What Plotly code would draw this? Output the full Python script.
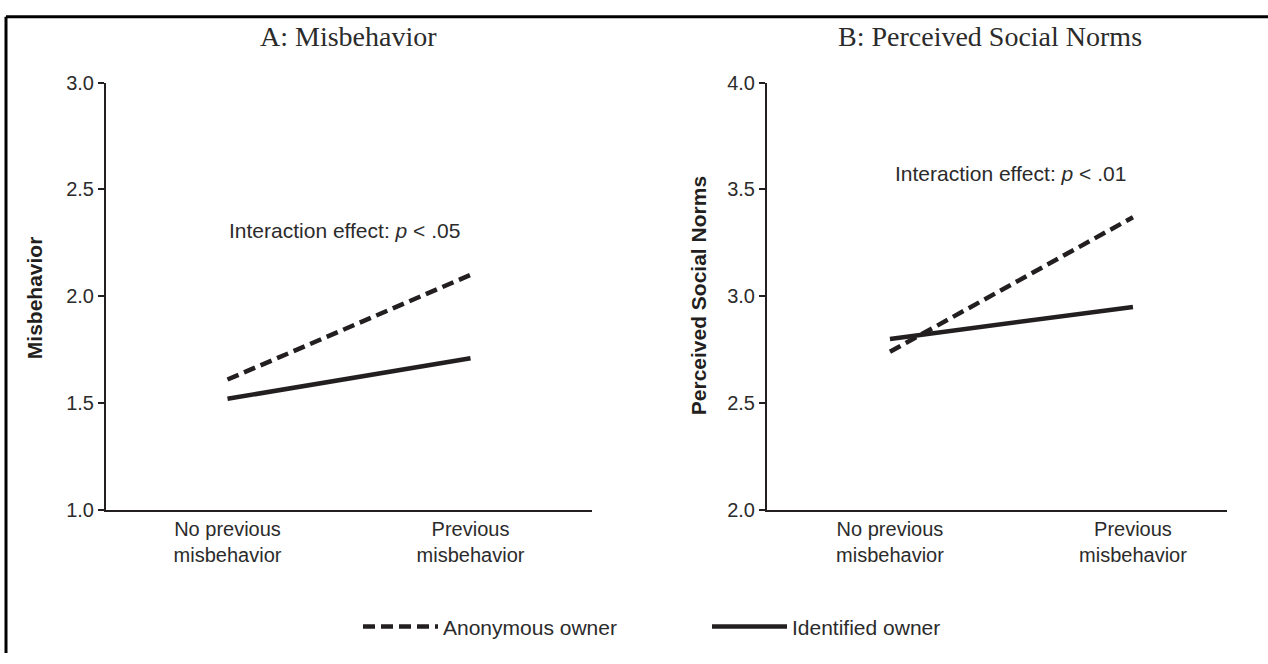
import plotly.graph_objects as go

# --- data -----------------------------------------------------------------
CATEGORIES = ["No previous<br>misbehavior", "Previous<br>misbehavior"]
CAT_POS = [0, 1]

misbehavior_anonymous = [1.61, 2.10]
misbehavior_identified = [1.52, 1.71]

norms_anonymous = [2.74, 3.37]
norms_identified = [2.80, 2.95]

INK = "#231f20"
TEXT = "#2b2b2b"
SANS = "Liberation Sans, Arial, sans-serif"
SERIF = "Liberation Serif, Times New Roman, serif"

W, H = 1268, 664


def px_x(v):
    return v / W


def px_y(v):
    return 1 - v / H


fig = go.Figure()

panels = [
    ("x", "y", misbehavior_anonymous, misbehavior_identified, True),
    ("x2", "y2", norms_anonymous, norms_identified, False),
]
for xa, ya, anon, ident, show in panels:
    fig.add_trace(go.Scatter(
        x=CAT_POS, y=anon, xaxis=xa, yaxis=ya, mode="lines",
        name="Anonymous owner", legendgroup="anon", showlegend=show,
        line=dict(color=INK, width=4.5, dash="12px,6px"),
    ))
    fig.add_trace(go.Scatter(
        x=CAT_POS, y=ident, xaxis=xa, yaxis=ya, mode="lines",
        name="Identified owner", legendgroup="ident", showlegend=show,
        line=dict(color=INK, width=4.5),
    ))

xaxis_common = dict(
    tickvals=CAT_POS, ticktext=CATEGORIES,
    showline=True, linecolor=INK, linewidth=2, ticks="",
    showgrid=False, zeroline=False, fixedrange=True,
    tickfont=dict(family=SANS, size=20, color=TEXT),
)
yaxis_common = dict(
    showline=True, linecolor=INK, linewidth=2, ticks="outside",
    ticklen=6, tickwidth=2, tickcolor=INK, dtick=0.5, tickformat=".1f",
    showgrid=False, zeroline=False,
    tickfont=dict(family=SANS, size=20, color=TEXT),
)

fig.update_layout(
    width=W, height=H,
    paper_bgcolor="white", plot_bgcolor="white",
    margin=dict(l=0, r=0, t=0, b=0),
    font=dict(family=SANS, color=TEXT),
    xaxis=dict(xaxis_common, domain=[px_x(106), px_x(592)], range=[-0.5, 1.5], anchor="y"),
    yaxis=dict(yaxis_common, domain=[px_y(516), px_y(74)], range=[1.0, 3.0], anchor="x"),
    xaxis2=dict(xaxis_common, domain=[px_x(767), px_x(1227)], range=[-0.506, 1.387], anchor="y2"),
    yaxis2=dict(yaxis_common, domain=[px_y(516), px_y(74)], range=[2.0, 4.0], anchor="x2"),
    showlegend=True,
    legend=dict(
        orientation="h", x=px_x(358), xanchor="left", y=px_y(637), yanchor="middle",
        itemwidth=75, entrywidth=259, font=dict(family=SANS, size=21, color=TEXT),
        bgcolor="rgba(0,0,0,0)",
    ),
)

annotations = [
    dict(text="A: Misbehavior", x=px_x(348), y=px_y(26), font=dict(family=SERIF, size=28, color=TEXT)),
    dict(text="B: Perceived Social Norms", x=px_x(990), y=px_y(26), font=dict(family=SERIF, size=28, color=TEXT)),
    dict(text="Interaction effect: <i>p</i> &lt; .05", x=px_x(345), y=px_y(227), font=dict(family=SANS, size=21, color=TEXT)),
    dict(text="Interaction effect: <i>p</i> &lt; .01", x=px_x(1010), y=px_y(168), font=dict(family=SANS, size=21, color=TEXT)),
    dict(text="<b>Misbehavior</b>", x=px_x(34), y=px_y(297), textangle=-90, font=dict(family=SANS, size=21, color=INK)),
    dict(text="<b>Perceived Social Norms</b>", x=px_x(698), y=px_y(295), textangle=-90, font=dict(family=SANS, size=21, color=INK)),
]
for a in annotations:
    fig.add_annotation(xref="paper", yref="paper", showarrow=False, xanchor="center", yanchor="middle", **a)

# frame (left and top edges of the bordered figure)
fig.add_shape(type="line", xref="paper", yref="paper", x0=px_x(6), x1=px_x(6), y0=0, y1=px_y(6),
              line=dict(color="black", width=3))
fig.add_shape(type="line", xref="paper", yref="paper", x0=px_x(6), x1=1, y0=px_y(6), y1=px_y(6),
              line=dict(color="black", width=3))

fig.write_html(
    "out.html",
    config=dict(displayModeBar=False),
    post_script="document.body.style.margin='0';document.body.style.overflow='hidden';",
)
